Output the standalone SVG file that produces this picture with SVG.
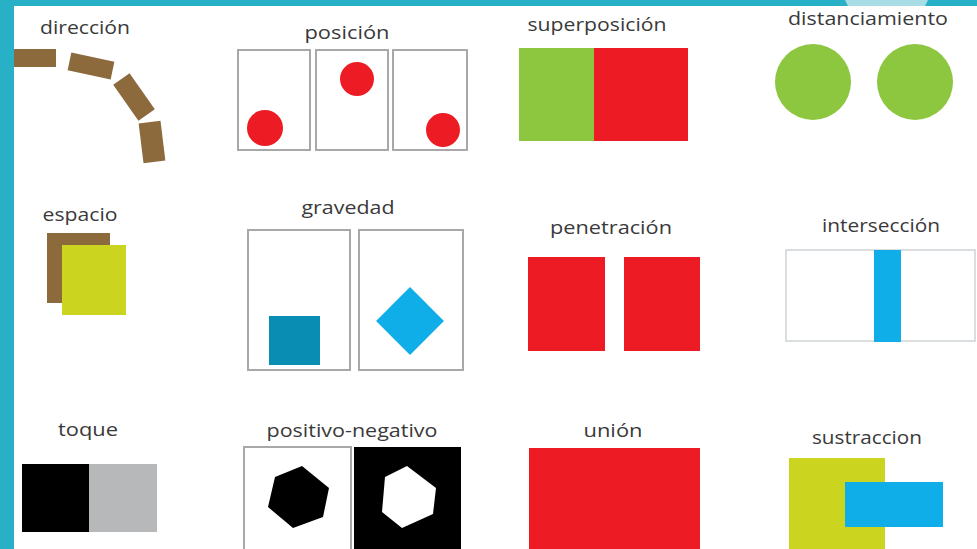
<svg xmlns="http://www.w3.org/2000/svg" width="977" height="549" viewBox="0 0 977 549">
<style>
.lbl{font-family:"Open Sans","Liberation Sans",sans-serif;font-size:19px;fill:#3a3a3a;text-anchor:middle;font-weight:500}
.frame{fill:none;stroke:#a8a8a8;stroke-width:2}
.thin{fill:none;stroke:#d0d4d6;stroke-width:1.5}
.red{fill:#ed1c24}
.brown{fill:#8c6a3c}
.lime{fill:#cbd51f}
.green{fill:#8dc63f}
.blue{fill:#10aee8}
</style>
<rect x="0" y="0" width="977" height="549" fill="#ffffff"/>
<g id="border">
<rect x="0" y="0" width="14" height="549" fill="#27b0c6"/>
<rect x="0" y="0" width="977" height="6" fill="#27b0c6"/>
<polygon points="845,0 928,0 925,6 848,6" fill="#a9dde6"/>
</g>
<g id="direccion">
<text class="lbl" x="85" y="34" textLength="90" lengthAdjust="spacingAndGlyphs">dirección</text>
<rect class="brown" x="14" y="49" width="42" height="18"/>
<rect class="brown" x="-22" y="-9" width="44" height="18" transform="translate(91,66) rotate(12)"/>
<rect class="brown" x="-22" y="-10" width="44" height="20" transform="translate(134,97) rotate(55)"/>
<rect class="brown" x="-20" y="-11" width="40" height="22" transform="translate(152,142) rotate(83)"/>
</g>
<g id="posicion">
<text class="lbl" x="347" y="39" textLength="85" lengthAdjust="spacingAndGlyphs">posición</text>
<rect class="frame" x="238" y="50" width="72" height="100"/>
<rect class="frame" x="316" y="50" width="72" height="100"/>
<rect class="frame" x="393" y="50" width="74" height="100"/>
<circle class="red" cx="265" cy="128" r="18"/>
<circle class="red" cx="357" cy="79" r="17"/>
<circle class="red" cx="443" cy="130" r="17"/>
</g>
<g id="superposicion">
<text class="lbl" x="597" y="31" textLength="139" lengthAdjust="spacingAndGlyphs">superposición</text>
<rect class="green" x="519" y="48" width="76" height="93"/>
<rect class="red" x="594" y="48" width="94" height="93"/>
</g>
<g id="distanciamiento">
<text class="lbl" x="868" y="25" textLength="160" lengthAdjust="spacingAndGlyphs">distanciamiento</text>
<circle class="green" cx="813" cy="82" r="38"/>
<circle class="green" cx="915" cy="82" r="38"/>
</g>
<g id="espacio">
<text class="lbl" x="80" y="221" textLength="75" lengthAdjust="spacingAndGlyphs">espacio</text>
<rect class="brown" x="47" y="233" width="63" height="70"/>
<rect class="lime" x="62" y="245" width="64" height="70"/>
</g>
<g id="gravedad">
<text class="lbl" x="348" y="214" textLength="93" lengthAdjust="spacingAndGlyphs">gravedad</text>
<rect class="frame" x="248" y="230" width="102" height="140"/>
<rect class="frame" x="359" y="230" width="104" height="140"/>
<rect x="269" y="316" width="51" height="49" fill="#0a8db3"/>
<rect class="blue" x="-24" y="-24" width="48" height="48" transform="translate(410,321) rotate(45)"/>
</g>
<g id="penetracion">
<text class="lbl" x="611" y="234" textLength="122" lengthAdjust="spacingAndGlyphs">penetración</text>
<rect class="red" x="528" y="257" width="77" height="94"/>
<rect class="red" x="624" y="257" width="76" height="94"/>
</g>
<g id="interseccion">
<text class="lbl" x="881" y="232" textLength="118" lengthAdjust="spacingAndGlyphs">intersección</text>
<rect class="thin" x="786" y="250" width="189" height="91"/>
<rect class="blue" x="874" y="250" width="27" height="92"/>
</g>
<g id="toque">
<text class="lbl" x="88" y="436" textLength="60" lengthAdjust="spacingAndGlyphs">toque</text>
<rect x="22" y="464" width="67" height="68" fill="#000000"/>
<rect x="89" y="464" width="68" height="68" fill="#b6b8ba"/>
</g>
<g id="positivo-negativo">
<text class="lbl" x="352" y="437" textLength="171" lengthAdjust="spacingAndGlyphs">positivo-negativo</text>
<rect x="244" y="447" width="107" height="104" fill="#ffffff" stroke="#a8a8a8" stroke-width="2"/>
<rect x="354" y="447" width="107" height="104" fill="#000000"/>
<polygon points="302,466 329,488 323,517 293,528 268,507 275,477" fill="#000000"/>
<polygon points="407,466 436,488 433,514 402,528 382,512 385,477" fill="#ffffff"/>
</g>
<g id="union">
<text class="lbl" x="613" y="437" textLength="59" lengthAdjust="spacingAndGlyphs">unión</text>
<rect class="red" x="529" y="448" width="171" height="101"/>
</g>
<g id="sustraccion">
<text class="lbl" x="867" y="444" textLength="110" lengthAdjust="spacingAndGlyphs">sustraccion</text>
<rect class="lime" x="789" y="458" width="96" height="91"/>
<rect class="blue" x="845" y="482" width="98" height="45"/>
</g>
</svg>
